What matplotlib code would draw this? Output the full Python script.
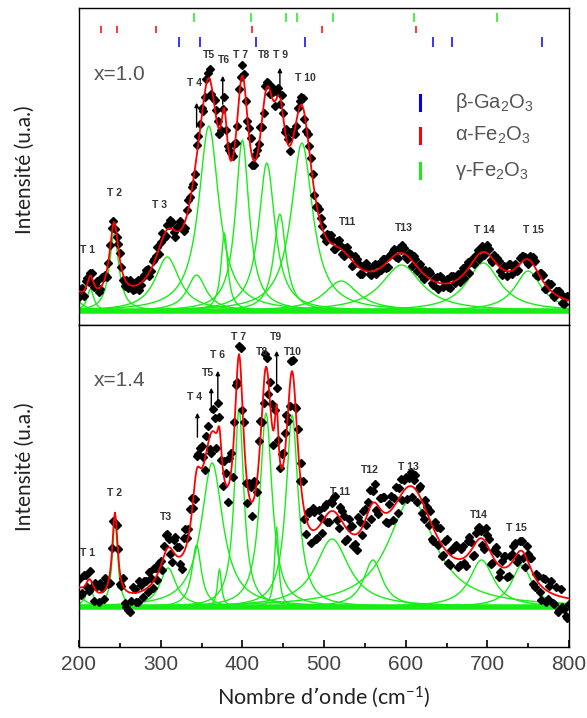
import numpy as np
import matplotlib.pyplot as plt

plt.rcParams['mathtext.default'] = 'regular'

# nombre d'onde (cm-1)
wn_a = np.arange(200, 801, 4)
wn_b = np.arange(202, 799, 4)
wn_fit = np.arange(200, 800.5, 1.0)

# x = 1.0 : composantes lorentziennes (centre, hauteur, demi-largeur)
top_pos = [195, 214, 243, 308, 344, 359, 378, 400, 430, 446, 473, 521, 595, 695, 750]
top_amp = [12, 22, 77, 54, 36, 185, 78, 171, 148, 97, 168, 30, 46, 48, 40]
top_hw = [10, 5, 7, 18, 14, 15, 5, 10, 12, 9, 16, 25, 30, 25, 20]
# écarts mesure - ajustement
top_res_a = [-6, 4, 7, -3, 5, 2, -4, 8, 3, -2, 6, -5, 3, 1, -7, -4, 2, -3, 5, -2, 4, 6, -1, 3, 7, 2,
             -3, 5, 8, -2, 4, 9, -5, 6, 3, -4, 12, 7, -6, 5, 10, -3, 8, -5, 4, -8, 6, 3, -7, 9, 11,
             -4, 6, -9, 5, 3, -6, 8, 4, 10, -5, 7, 9, -3, 6, 12, -4, 5, 8, -6, 3, 7, -5, 4, 6, -3,
             5, 8, -4, 6, 3, -5, 7, 4, -3, 6, -6, 4, 8, -2, 5, -4, 3, 7, -5, 4, 6, -3, 5, 8, -2,
             4, -5, 6, 3, -4, 5, 7, -3, 4, -6, 5, 3, -4, 6, -2, 5, 4, -5, 7, 3, -4, 6, 5, -3, 8,
             -4, 5, 6, -3, 4, -5, 7, 3, -4, 6, 5, -3, 4, 7, -5, 3, 6, -4, 5, -3, 4, 6, -5, 3, 5]
top_res_b = [3, -5, 6, 2, -4, 7, -2, 5, -6, 4, 3, -3, 6, -5, 2, 5, -4, 3, -6, 4, 7, -3, 5, 2, -5,
             6, -4, 3, 7, -6, 5, 2, -7, 9, 4, -5, 8, 10, -4, 6, -9, 7, 5, -6, 11, -4, 8, 6, -8, 5,
             7, -5, 9, -4, 6, 8, -7, 5, -3, 9, 6, -8, 4, 10, -5, 7, -4, 6, 9, -7, 5, 4, -6, 8, 3,
             -5, 6, 4, -3, 7, -4, 5, 3, -6, 8, 4, -5, 6, 3, -4, 7, 5, -3, 6, -5, 4, 7, -4, 3, 6,
             -3, 5, 7, -4, 6, -5, 3, 6, -4, 5, 7, -3, 4, -5, 6, 3, -4, 7, 5, -6, 4, 3, -5, 6, 4,
             6, -4, 3, 5, -6, 4, 7, -3, 5, -4, 6, 3, -5, 4, 6, -3, 5, -6, 4, 7, -4, 5, 3, -5, 4]

# x = 1.4
bot_pos = [198, 213, 244, 309, 344, 363, 372, 396, 429, 442, 461, 510, 560, 607, 693, 742]
bot_amp = [12, 18, 86, 39, 62, 144, 38, 199, 194, 80, 192, 68, 47, 108, 47, 42]
bot_hw = [10, 6, 4, 12, 7, 16, 3, 7, 9, 3, 9, 25, 14, 35, 18, 15]
bot_res_a = [8, -6, 10, -12, -4, 7, -9, 5, 12, -3, 8, -10, 6, -5, -14, -18, -8, 4, -10, 6, 9, -4, 7, 12, -6, 5,
             10, 14, -6, 12, 9, -8, 15, 6, 18, -10, 14, 20, 8, 16, -12, 22, -15, 10, -18, 12, 24, -20, 15, 8, -6,
             -18, 12, -14, 10, 22, -8, 16, -12, 18, 9, -6, 14, 20, -10, 12, -15, 16, 24, -8, 12, -14, 18, -10, 6, 12,
             -8, 10, 14, -6, 12, 8, -10, 6, -12, -16, 9, 14, -8, 18, 12, -6, 10, 15, -9, 8, -12, 16, 10, -7, 12,
             8, -10, 14, 6, -12, 9, -8, -14, 10, -6, -12, 8, -10, 6, 12, -8, 10, -6, 14, 8, -10, 12, 7, -9, 10,
             -12, 8, 10, -6, 12, -10, 8, 14, -8, 10, -6, 12, 8, -10, 6, -8, 10, -12, 6, -9, 8, -14, -10, -18, -6]
bot_res_b = [-8, 12, -5, 9, -14, 6, 10, -7, 4, -11, 9, 5, -12, 8, -16, -20, 6, -9, 11, -6, 8, 14, -5, 10, 7,
             -9, 16, 8, -12, 18, 10, -14, 20, 7, 16, -18, 12, 22, -10, 18, -20, 14, 26, -12, 18, -16, 20, 10, -14, 22,
             16, -20, 14, 18, -12, 20, -16, 10, 22, -14, 16, -8, 12, 20, -18, 14, 10, -12, 20, -16, 14, 22, -10, 16, -12,
             12, -10, 8, 16, -12, 10, -14, 12, 8, -10, 16, -6, 12, 10, -14, 18, -8, 12, 16, -10, 14, 8, -12, 16, 10,
             -12, 14, 8, -10, 12, -14, 6, 10, -12, 8, 14, -8, 12, -10, 8, 14, -6, 12, -10, 16, -8, 10, 12, -6, 14,
             10, -8, 14, -12, 6, 12, -10, 8, 14, -6, 10, -12, 8, 12, -10, 6, -14, 10, -8, 12, -10, -16, 8, -12, -20]

# positions de référence (cm-1)
ref_gamma = [341, 410, 454, 467, 511, 610, 712]
ref_alpha = [227, 247, 294, 412, 498, 613]
ref_beta = [322, 348, 417, 477, 633, 657, 767]

# étiquettes des bandes
top_lbl = [("T 1", 211, 61), ("T 2", 243, 118), ("T 3", 299, 106), ("T 4", 342, 228),
           ("T5", 359, 256), ("T6", 377, 251), ("T 7", 398, 256), ("T8", 427, 256),
           ("T 9", 447, 256), ("T 10", 477, 233), ("T11", 529, 89), ("T13", 598, 83),
           ("T 14", 696, 81), ("T 15", 756, 81)]
top_arr = [(344, 181, 211), (376, 204, 238), (446, 211, 246)]
bot_lbl = [("T 1", 210, 54), ("T 2", 243, 114), ("T3", 307, 90), ("T 4", 342, 210),
           ("T5", 358, 234), ("T 6", 370, 252), ("T 7", 395, 270), ("T8", 424, 255),
           ("T9", 441, 270), ("T10", 462, 255), ("T 11", 520, 115), ("T12", 556, 137),
           ("T 13", 603, 140), ("T14", 689, 92), ("T 15", 736, 79)]
bot_arr = [(345, 167, 197), (362, 192, 222), (370, 200, 239), (442, 217, 259)]

GREEN = '#16ee16'
GRAY = '#555555'


def lorentz(x, x0, a, w):
    return a / (1 + ((x - x0) / w) ** 2)


def spectre(x, pos, amp, hw):
    s = np.zeros(len(x))
    for x0, a, w in zip(pos, amp, hw):
        s += lorentz(x, x0, a, w)
    return s


def draw_panel(ax, pos, amp, hw, res_a, res_b, lbls, arrs, tag):
    for x0, a, w in zip(pos, amp, hw):
        ax.plot(wn_fit, lorentz(wn_fit, x0, a, w), color=GREEN, lw=1.0, zorder=2)
    ax.axhline(0, color=GREEN, lw=4, zorder=2)
    # points mesurés
    ax.plot(wn_a, spectre(wn_a, pos, amp, hw) + np.array(res_a), 'D', color='black', ms=3.8, zorder=3)
    ax.plot(wn_b, spectre(wn_b, pos, amp, hw) + np.array(res_b), 'D', color='black', ms=3.8, zorder=3)
    # ajustement
    ax.plot(wn_fit, spectre(wn_fit, pos, amp, hw), color='red', lw=1.3, zorder=4)
    for name, x, y in lbls:
        ax.text(x, y, name, fontsize=7.5, color='#333333', ha='center', va='center',
                family='Liberation Sans', fontweight='bold', zorder=5)
    for x, y0, y1 in arrs:
        ax.annotate('', xy=(x, y1), xytext=(x, y0),
                    arrowprops=dict(arrowstyle='-|>', color='black', lw=1.0, mutation_scale=6), zorder=5)
    ax.text(0.03, tag[1], tag[0], transform=ax.transAxes, fontsize=15, color=GRAY,
            family='Liberation Sans', va='center')
    ax.set_xlim(200, 800)
    ax.set_yticks([])
    for s in ax.spines.values():
        s.set_linewidth(1.0)


fig = plt.figure(figsize=(5.87, 7.18), dpi=100)
ax1 = fig.add_axes([79 / 587, 1 - 325 / 718, 490 / 587, 317 / 718])
ax2 = fig.add_axes([79 / 587, 1 - 647 / 718, 490 / 587, 322 / 718], sharex=ax1)

draw_panel(ax1, top_pos, top_amp, top_hw, top_res_a, top_res_b, top_lbl, top_arr, ("x=1.0", 0.789))
draw_panel(ax2, bot_pos, bot_amp, bot_hw, bot_res_a, bot_res_b, bot_lbl, bot_arr, ("x=1.4", 0.829))
ax1.set_ylim(-14, 303)
ax2.set_ylim(-40, 282)

# barres de référence en haut
tr = ax1.get_xaxis_transform()
ax1.vlines(ref_gamma, 0.956, 0.984, color=GREEN, lw=1.1, transform=tr)
ax1.vlines(ref_alpha, 0.921, 0.943, color='red', lw=1.1, transform=tr)
ax1.vlines(ref_beta, 0.877, 0.909, color='blue', lw=1.1, transform=tr)

# légende
leg = [('\u03b2-Ga$_2$O$_3$', 'blue', 0.702), ('\u03b1-Fe$_2$O$_3$', 'red', 0.597),
       ('\u03b3-Fe$_2$O$_3$', GREEN, 0.487)]
for txt, c, y in leg:
    ax1.plot([0.696, 0.696], [y - 0.024, y + 0.024], color=c, lw=2.2, transform=ax1.transAxes)
    ax1.text(0.767, y, txt, transform=ax1.transAxes, fontsize=14.5, color=GRAY,
             family='Liberation Sans', va='center')

ax1.tick_params(axis='x', bottom=False, labelbottom=False)
ax2.set_xticks([200, 300, 400, 500, 600, 700, 800])
ax2.set_xticks([250, 350, 450, 550, 650, 750], minor=True)
ax2.tick_params(axis='x', which='major', direction='in', length=5, width=1.2, labelsize=15,
                labelcolor='#444444', pad=6)
ax2.tick_params(axis='x', which='minor', direction='in', length=3, width=1.2)
for lab in ax2.get_xticklabels():
    lab.set_family('Liberation Sans')

ax2.set_xlabel("Nombre d\u2019onde (cm$^{-1}$)", fontsize=15.5, family='Lato', color='#222222', labelpad=7)
fig.text(0.043, 1 - 170 / 718, "Intensit\u00e9 (u.a.)", rotation=90, fontsize=15, family='Lato',
         color='#222222', ha='center', va='center')
fig.text(0.043, 1 - 467 / 718, "Intensit\u00e9 (u.a.)", rotation=90, fontsize=15, family='Lato',
         color='#222222', ha='center', va='center')

fig.savefig('out.png', dpi=100)
